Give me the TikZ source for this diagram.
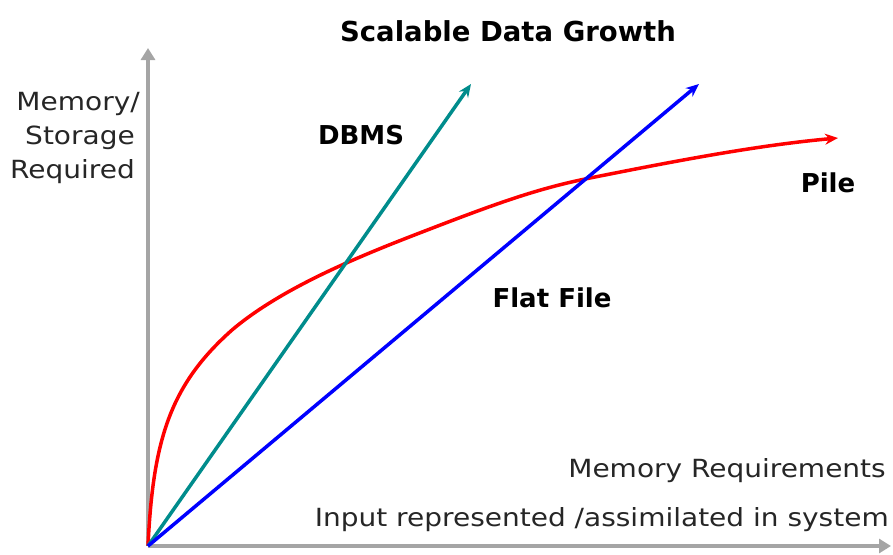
\documentclass[tikz,border=0pt]{standalone}
\usepackage{fontspec}
\setmainfont{DejaVu Sans}
\usetikzlibrary{arrows.meta}
\definecolor{axisgray}{RGB}{165,165,165}
\definecolor{dbmsteal}{RGB}{0,140,140}
\tikzset{
  axisline/.style={draw=axisgray, line width=4.5pt, -{Triangle[length=12pt,width=14pt]}},
  curveline/.style={line width=3.5pt, -{Stealth[length=13pt,width=11pt]}},
  bold label/.style={font=\bfseries\fontsize{26}{30}\selectfont, inner sep=0pt},
  plain label/.style={font=\fontsize{25}{30}\selectfont, text=black!85, inner sep=0pt, xscale=1.12}
}
\begin{document}
\begin{tikzpicture}[x=1pt,y=-1pt]
\useasboundingbox (0,0) rectangle (893,554);
\coordinate (O) at (148,546);
\coordinate (ytop) at (148,48);
\coordinate (xend) at (891,546);
\draw[axisline] (O) -- (ytop);
\draw[axisline] (O) -- (xend);
% curves
\coordinate (dbmsend) at (471,84);
\coordinate (flatend) at (699,84);
\coordinate (pileend) at (838,138);
\draw[curveline, draw=red] (O) .. controls (153,440) and (170,385) .. (232,330)
   .. controls (285,285) and (370,252) .. (430,229)
   .. controls (500,202) and (540,188) .. (590,178)
   .. controls (680,160) and (760,145) .. (pileend);
\draw[curveline, draw=dbmsteal] (O) -- (dbmsend);
\draw[curveline, draw=blue] (O) -- (flatend);
% labels
\node[font=\bfseries\fontsize{27.5}{32}\selectfont, inner sep=0pt] (title) at (508,31) {Scalable Data Growth};
\node[plain label, anchor=east] (l1) at (140,104) {Memory/};
\node[plain label, anchor=east] (l2) at (135,138) {Storage};
\node[plain label, anchor=east] (l3) at (135,172) {Required};
\node[bold label] (dbms) at (361,135) {DBMS};
\node[bold label] (flat) at (552,298) {Flat File};
\node[bold label] (pile) at (828,183) {Pile};
\node[plain label, anchor=east] (xl1) at (886,471) {Memory Requirements};
\node[plain label, anchor=east] (xl2) at (889,520) {Input represented /assimilated in system};
\end{tikzpicture}
\end{document}
